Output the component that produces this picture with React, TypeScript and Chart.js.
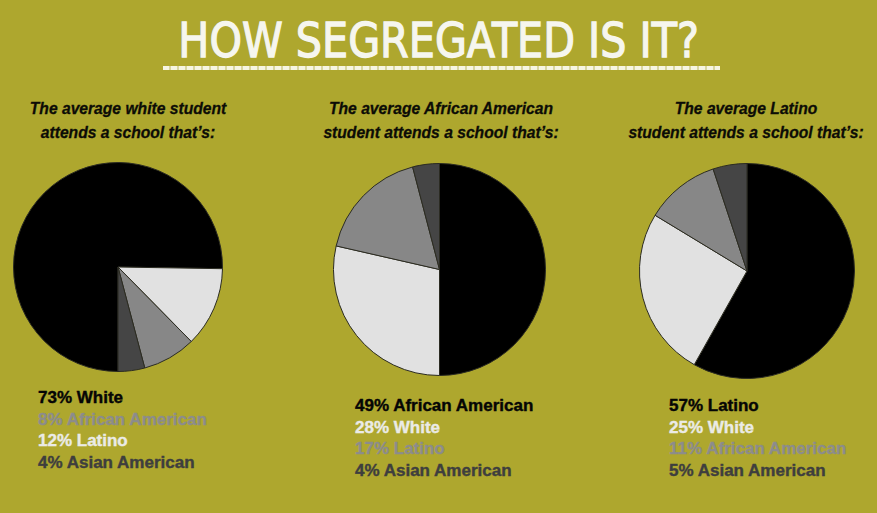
import React, { useEffect, useRef } from 'react';
import { Chart, registerables } from 'chart.js';

Chart.register(...registerables);

const TITLE = 'HOW SEGREGATED IS IT?';
const SLICE_COLORS = ['#000000', '#e1e1e1', '#878787', '#454545'];
const LEGEND_COLORS = ['#050505', '#ebebe6', '#8c8c8c', '#3e3e3e'];

const whiteSubtitle = ['The average white student', 'attends a school that’s:'];
const whiteLabels = ['White', 'Latino', 'African American', 'Asian American'];
const whiteValues = [73, 12, 8, 4];
const whiteLegendOrder = [0, 2, 1, 3];

const blackSubtitle = ['The average African American', 'student attends a school that’s:'];
const blackLabels = ['African American', 'White', 'Latino', 'Asian American'];
const blackValues = [49, 28, 17, 4];
const blackLegendOrder = [0, 1, 2, 3];

const latinoSubtitle = ['The average Latino', 'student attends a school that’s:'];
const latinoLabels = ['Latino', 'White', 'African American', 'Asian American'];
const latinoValues = [57, 25, 11, 5];
const latinoLegendOrder = [0, 1, 2, 3];

type PanelProps = {
  subtitle: string[];
  labels: string[];
  values: number[];
  legendOrder: number[];
  rotation: number;
  textCx: number;
  pieLeft: number;
  pieTop: number;
  pieSize: number;
  legendLeft: number;
  legendTop: number;
};

function Pie({ labels, values, rotation, left, top, size }: { labels: string[]; values: number[]; rotation: number; left: number; top: number; size: number }) {
  const ref = useRef<HTMLCanvasElement | null>(null);
  useEffect(() => {
    if (!ref.current) return;
    const chart = new Chart(ref.current, {
      type: 'pie',
      data: {
        labels,
        datasets: [
          {
            data: values,
            backgroundColor: SLICE_COLORS,
            borderColor: '#2b2b22',
            borderWidth: 1,
            hoverBorderWidth: 1,
            hoverOffset: 0,
            offset: 0,
          },
        ],
      },
      options: {
        responsive: false,
        maintainAspectRatio: false,
        animation: false,
        rotation,
        layout: { padding: 0 },
        plugins: {
          legend: { display: false },
          tooltip: { enabled: false },
          title: { display: false },
        },
        events: [],
      },
    });
    return () => chart.destroy();
  }, []);
  return (
    <canvas
      ref={ref}
      width={size}
      height={size}
      style={{ position: 'absolute', left, top, width: size, height: size }}
    />
  );
}

function Panel(p: PanelProps) {
  return (
    <>
      <div
        style={{
          position: 'absolute',
          left: p.textCx - 160,
          top: 97,
          width: 320,
          textAlign: 'center',
          fontFamily: '"Liberation Sans", Arial, sans-serif',
          fontWeight: 'bold',
          fontStyle: 'italic',
          fontSize: 17,
          lineHeight: '24px',
          color: '#0c0c06',
          transform: 'scaleX(0.92)',
          transformOrigin: 'center',
          whiteSpace: 'nowrap',
          WebkitTextStroke: '0.3px #0c0c06',
        }}
      >
        {p.subtitle.map((s, i) => (
          <div key={i}>{s}</div>
        ))}
      </div>
      <Pie labels={p.labels} values={p.values} rotation={p.rotation} left={p.pieLeft} top={p.pieTop} size={p.pieSize} />
      <div
        style={{
          position: 'absolute',
          left: p.legendLeft,
          top: p.legendTop,
          fontFamily: '"Liberation Sans", Arial, sans-serif',
          fontWeight: 'bold',
          fontSize: 17,
          lineHeight: '21.5px',
          whiteSpace: 'nowrap',
        }}
      >
        {p.legendOrder.map((idx) => (
          <div key={idx} style={{ color: LEGEND_COLORS[idx], WebkitTextStroke: '0.4px ' + LEGEND_COLORS[idx] }}>
            {p.values[idx]}% {p.labels[idx]}
          </div>
        ))}
      </div>
    </>
  );
}

export default function App() {
  return (
    <div
      style={{
        position: 'absolute',
        left: 0,
        top: 0,
        width: 877,
        height: 513,
        background: '#aea72e',
        overflow: 'hidden',
      }}
    >
      <div
        style={{
          position: 'absolute',
          left: 0,
          top: 16,
          width: 877,
          textAlign: 'center',
          fontFamily: '"DejaVu Sans", sans-serif',
          fontSize: 48,
          lineHeight: '48px',
          color: '#f6f6ee',
          whiteSpace: 'nowrap',
          WebkitTextStroke: '1.3px #f6f6ee',
        }}
      >
        <span style={{ display: 'inline-block', transform: 'scaleX(0.86)', transformOrigin: 'center' }}>{TITLE}</span>
      </div>
      <div
        style={{
          position: 'absolute',
          left: 163,
          top: 66,
          width: 557,
          height: 4,
          background:
            'repeating-linear-gradient(90deg, rgba(250,250,235,0.95) 0px, rgba(250,250,235,0.95) 6px, rgba(235,235,205,0.7) 6px, rgba(235,235,205,0.7) 8px)',
        }}
      />
      <Panel
        subtitle={whiteSubtitle}
        labels={whiteLabels}
        values={whiteValues}
        legendOrder={whiteLegendOrder}
        rotation={180}
        textCx={128}
        pieLeft={13}
        pieTop={162}
        pieSize={210}
        legendLeft={38}
        legendTop={387}
      />
      <Panel
        subtitle={blackSubtitle}
        labels={blackLabels}
        values={blackValues}
        legendOrder={blackLegendOrder}
        rotation={0}
        textCx={441}
        pieLeft={333}
        pieTop={163}
        pieSize={213}
        legendLeft={355}
        legendTop={395}
      />
      <Panel
        subtitle={latinoSubtitle}
        labels={latinoLabels}
        values={latinoValues}
        legendOrder={latinoLegendOrder}
        rotation={0}
        textCx={746}
        pieLeft={639}
        pieTop={163}
        pieSize={216}
        legendLeft={669}
        legendTop={395}
      />
    </div>
  );
}
